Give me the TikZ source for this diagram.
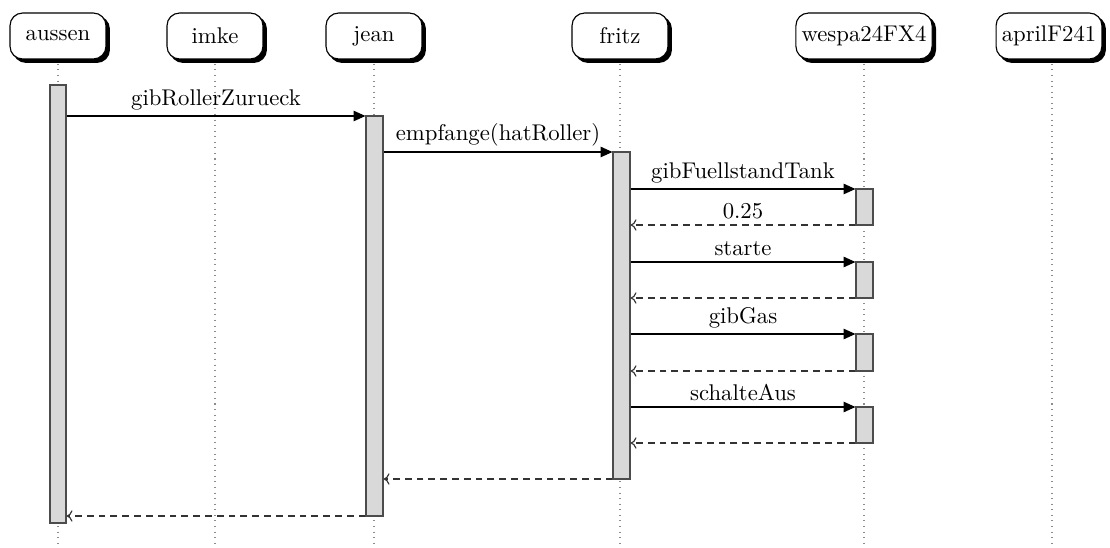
\documentclass[tikz,border=0pt]{standalone}
\usetikzlibrary{arrows.meta,shadows,fit}
\begin{document}
\begin{tikzpicture}[x=0.44pt,y=-0.44pt,
  head/.style={draw=black, fill=white, rounded corners=5.5pt, minimum height=20.2pt,
    minimum width=42.2pt, inner xsep=2.5pt, inner ysep=2pt, line width=0.5pt,
    copy shadow={shadow xshift=1.5pt, shadow yshift=-1.5pt, fill=black, draw=black}},
  lifeline/.style={draw=black!45, dotted, line width=0.45pt},
  bar/.style={draw=black!70, fill=black!15, line width=0.5pt, inner sep=0pt},
  call/.style={draw=black, line width=0.5pt, -{Triangle[length=5.2pt,width=4.6pt]}},
  ret/.style={draw=black!80, line width=0.5pt, dash pattern=on 3pt off 2.2pt, -{To[length=2.6pt,width=5pt]}},
  lbl/.style={above, inner sep=2.5pt, font=\normalsize}
]
\useasboundingbox (0,0) rectangle (1110,548);
\coordinate (bottom) at (0,548);
% lifelines
\foreach \n/\x in {laussen/58, limke/215, ljean/374, lfritz/620, lwespa/864, lapril/1052}{
  \coordinate (\n) at (\x,36);
  \draw[lifeline] (\n) -- (\n |- bottom);
}
% headers
\node[head] (aussen) at (58,36) {aussen};
\node[head] (imke) at (215,36) {imke};
\node[head] (jean) at (374,36) {jean};
\node[head] (fritz) at (620,36) {fritz};
\node[head] (wespa) at (864,36) {wespa24FX4};
\node[head] (april) at (1049,36) {aprilF241};
% activation bars
\node[bar, fit={(50,85) (66,523)}] (barA) {};
\node[bar, fit={(366,116) (383,516)}] (barJ) {};
\node[bar, fit={(613,152) (630,479)}] (barF) {};
\node[bar, fit={(856,189) (873,225)}] (barW1) {};
\node[bar, fit={(856,262) (873,298)}] (barW2) {};
\node[bar, fit={(856,334) (873,371)}] (barW3) {};
\node[bar, fit={(856,407) (873,443)}] (barW4) {};
% message heights
\foreach \n/\y in {y1/116, y2/152, y3/189, y4/225, y5/262, y6/298, y7/334, y8/371, y9/407, y10/443, y11/479, y12/516}{
  \coordinate (\n) at (0,\y);
}
\draw[call] (barA.east |- y1) -- node[lbl]{gibRollerZurueck} (barJ.west |- y1);
\draw[call] (barJ.east |- y2) -- node[lbl]{empfange(hatRoller)} (barF.west |- y2);
\draw[call] (barF.east |- y3) -- node[lbl]{gibFuellstandTank} (barW1.west |- y3);
\draw[ret] (barW1.west |- y4) -- node[lbl]{0.25} (barF.east |- y4);
\draw[call] (barF.east |- y5) -- node[lbl]{starte} (barW2.west |- y5);
\draw[ret] (barW2.west |- y6) -- (barF.east |- y6);
\draw[call] (barF.east |- y7) -- node[lbl]{gibGas} (barW3.west |- y7);
\draw[ret] (barW3.west |- y8) -- (barF.east |- y8);
\draw[call] (barF.east |- y9) -- node[lbl]{schalteAus} (barW4.west |- y9);
\draw[ret] (barW4.west |- y10) -- (barF.east |- y10);
\draw[ret] (barF.west |- y11) -- (barJ.east |- y11);
\draw[ret] (barJ.west |- y12) -- (barA.east |- y12);
\end{tikzpicture}
\end{document}
